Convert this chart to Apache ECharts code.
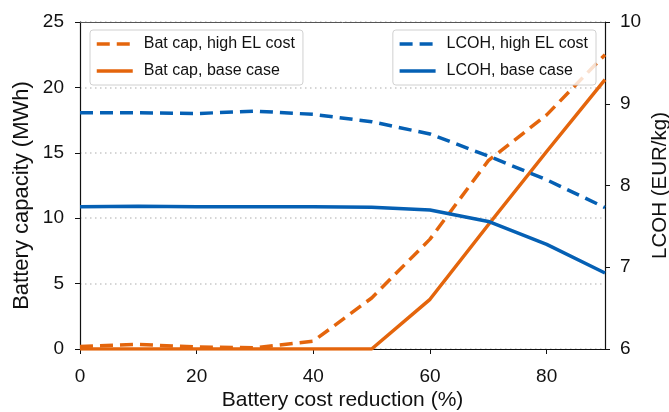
<!DOCTYPE html>
<html><head><meta charset="utf-8">
<script src="https://cdn.jsdelivr.net/npm/echarts@6/dist/echarts.min.js"></script>
<style>html,body{margin:0;padding:0;background:#fff}#c{width:669px;height:412px}</style>
</head><body><div id="c"></div>
<script>
const xValues = [0, 10, 20, 30, 40, 50, 60, 70, 80, 90];
const batCapHigh = [0.2, 0.35, 0.15, 0.1, 0.6, 3.9, 8.4, 14.4, 17.9, 22.5];
const batCapBase = [0, 0, 0, 0, 0, 0, 3.8, 9.5, 15.1, 20.6];
const lcohHigh = [8.89, 8.89, 8.88, 8.91, 8.87, 8.78, 8.63, 8.36, 8.07, 7.73];
const lcohBase = [7.74, 7.745, 7.74, 7.74, 7.74, 7.735, 7.70, 7.56, 7.28, 6.93];
const xTicks = [0, 20, 40, 60, 80];
const names = ['Bat cap, high EL cost', 'Bat cap, base case', 'LCOH, high EL cost', 'LCOH, base case'];

const ORANGE = '#e4650c';
const BLUE = '#0560b4';
const FONT = 'Liberation Sans';
const pairs = a => xValues.map((x, i) => [x, a[i]]);

const chart = echarts.init(document.getElementById('c'));
const legendCommon = {
  orient: 'vertical', top: 30, itemWidth: 36, itemHeight: 14, itemGap: 11,
  padding: [6, 8, 6, 5], borderColor: '#d0d0d0', borderWidth: 1, borderRadius: 3,
  backgroundColor: 'rgba(255,255,255,0.8)',
  itemStyle: { opacity: 0 },
  lineStyle: { width: 3.5 },
  textStyle: { fontFamily: FONT, fontSize: 16, color: '#111', padding: [0, 0, 0, 6] }
};
chart.setOption({
  animation: false,
  grid: { left: 80, right: 64, top: 22, bottom: 63, outerBoundsMode: 'none', containLabel: false },
  legend: [
    Object.assign({ left: 90, data: [names[0], names[1]] }, legendCommon),
    Object.assign({ right: 73, data: [names[2], names[3]] }, legendCommon)
  ],
  xAxis: [{
    type: 'value', min: 0, max: 90, interval: 20,
    name: 'Battery cost reduction (%)', nameLocation: 'middle', nameGap: 41, nameMoveOverlap: false,
    nameTextStyle: { fontFamily: FONT, fontSize: 21, color: '#111' },
    axisLine: { onZero: false, lineStyle: { color: '#111', width: 1.2 } },
    axisTick: { show: true, length: 5, customValues: xTicks, lineStyle: { color: '#111' } },
    axisLabel: { customValues: xTicks, fontFamily: FONT, fontSize: 19, color: '#111', margin: 18 },
    splitLine: { show: false }
  }, {
    type: 'value', position: 'top', min: 0, max: 90,
    axisLine: { show: true, onZero: false, lineStyle: { color: '#555', width: 1 } },
    axisTick: { show: false }, axisLabel: { show: false }, splitLine: { show: false }
  }],
  yAxis: [{
    type: 'value', min: 0, max: 25, interval: 5, position: 'left',
    name: 'Battery capacity (MWh)', nameLocation: 'middle', nameGap: 47, nameRotate: 90,
    nameMoveOverlap: false,
    nameTextStyle: { fontFamily: FONT, fontSize: 22, color: '#111', padding: [0, 20, 0, 0] },
    axisLine: { show: true, onZero: false, lineStyle: { color: '#111', width: 1.2 } },
    axisTick: { show: true, length: 5, lineStyle: { color: '#111' } },
    axisLabel: { fontFamily: FONT, fontSize: 19, color: '#111', margin: 16 },
    splitLine: { show: true, lineStyle: { color: '#c8c8c8', type: [1.5, 3.5], width: 1.5 } }
  }, {
    type: 'value', min: 6, max: 10, interval: 1, position: 'right',
    name: 'LCOH (EUR/kg)', nameLocation: 'middle', nameGap: 45, nameRotate: 90,
    nameMoveOverlap: false,
    nameTextStyle: { fontFamily: FONT, fontSize: 20.5, color: '#111' },
    axisLine: { show: true, onZero: false, lineStyle: { color: '#111', width: 1.2 } },
    axisTick: { show: true, length: 5, lineStyle: { color: '#111' } },
    axisLabel: { fontFamily: FONT, fontSize: 19, color: '#111', margin: 15 },
    splitLine: { show: false }
  }],
  series: [
    { name: names[0], type: 'line', yAxisIndex: 0, data: pairs(batCapHigh), symbol: 'none',
      color: ORANGE, lineStyle: { color: ORANGE, width: 3.5, type: [13, 7] } },
    { name: names[1], type: 'line', yAxisIndex: 0, data: pairs(batCapBase), symbol: 'none',
      color: ORANGE, lineStyle: { color: ORANGE, width: 3.5 } },
    { name: names[2], type: 'line', yAxisIndex: 1, data: pairs(lcohHigh), symbol: 'none',
      color: BLUE, lineStyle: { color: BLUE, width: 3.5, type: [13, 7] } },
    { name: names[3], type: 'line', yAxisIndex: 1, data: pairs(lcohBase), symbol: 'none',
      color: BLUE, lineStyle: { color: BLUE, width: 3.5 } }
  ]
});
</script></body></html>
